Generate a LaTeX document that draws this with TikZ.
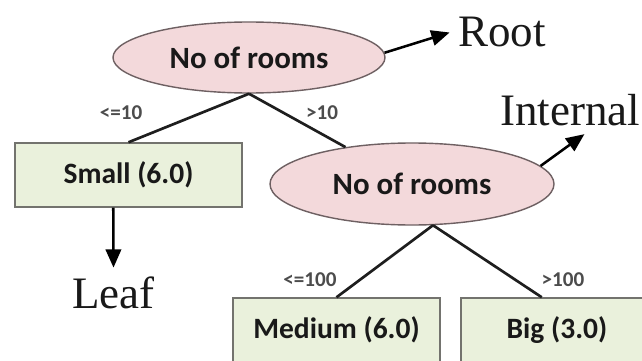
\documentclass[tikz,border=0pt]{standalone}
\usepackage{fontspec}
\setmainfont{Liberation Serif}
\newfontfamily\calibri{Carlito}
\usepackage{tikz}
\usetikzlibrary{arrows.meta}
\usetikzlibrary{shapes.geometric}
\usetikzlibrary{positioning}
\definecolor{splitpink}{RGB}{243,217,219}
\definecolor{splitedge}{RGB}{110,96,98}
\definecolor{leafgreen}{RGB}{234,241,220}
\definecolor{leafedge}{RGB}{115,115,110}
\definecolor{treeline}{RGB}{30,30,30}
\tikzset{split/.style = {ellipse, draw = splitedge, line width = 1pt, fill = splitpink, inner sep = 0,
    font = \calibri\bfseries\fontsize{22}{26}\selectfont, text = black!90}}
\tikzset{leafbox/.style = {rectangle, draw = leafedge, line width = 1pt, fill = leafgreen, inner sep = 0,
    minimum height = 1.6cm, font = \calibri\bfseries\fontsize{21}{25}\selectfont, text = black!90}}
\tikzset{cond/.style = {font = \calibri\bfseries\fontsize{15}{18}\selectfont, text = black!70}}
\tikzset{anno/.style = {inner sep = 6pt, font = \fontsize{32}{36}\selectfont, text = black!90}}
\tikzset{branch/.style = {draw = treeline, line width = 1.9pt}}
\tikzset{pointer/.style = {line width = 1.8pt, draw = black, -{Triangle[length = 13pt, width = 11pt]}}}

\begin{document}
\begin{tikzpicture}
      \clip (0, 0) rectangle (16.05, 9);
      \fill [white] (0, 0) rectangle (16.05, 9);

      \node [split, minimum width = 6.8cm, minimum height = 1.775cm] (root) at (6.225, 7.5625) {No of rooms};
      \node [split, minimum width = 7.1cm, minimum height = 2.05cm] (internal) at (10.3, 4.4) {No of rooms};

      \node [leafbox, minimum width = 5.675cm] (small) at (3.2125, 4.625) {Small (6.0)};
      \node [leafbox, minimum width = 5.175cm] (medium) at (8.4125, 0.75) {Medium (6.0)};
      \node [leafbox, minimum width = 4.8cm] (big) at (13.925, 0.75) {Big (3.0)};

      \node [cond] (le10) at (3.025, 6.175) {<=10};
      \node [cond] (gt10) at (8.05, 6.175) {>10};
      \node [cond] (le100) at (7.75, 2.0) {<=100};
      \node [cond] (gt100) at (14.075, 2.0) {>100};

      \node [anno, anchor = base west] (rootlbl) at (11.24, 7.825) {Root};
      \node [anno, anchor = base west] (internallbl) at (12.29, 5.875) {Internal};
      \node [anno, anchor = base west] (leaflbl) at (1.59, 1.3) {Leaf};

      % branches
      \draw [branch] (root.south) -- (small.north);
      \draw [branch] (root.south) -- (internal);
      \draw [branch] (internal.-63) -- (medium.north);
      \draw [branch] (internal.-63) -- (big.115);

      \draw [pointer] (root.2) -- (rootlbl.west);
      \draw [pointer] (internal.8) -- (internallbl.-60);
      \draw [pointer] (small.-115) -- (leaflbl.north);
\end{tikzpicture}
\end{document}
